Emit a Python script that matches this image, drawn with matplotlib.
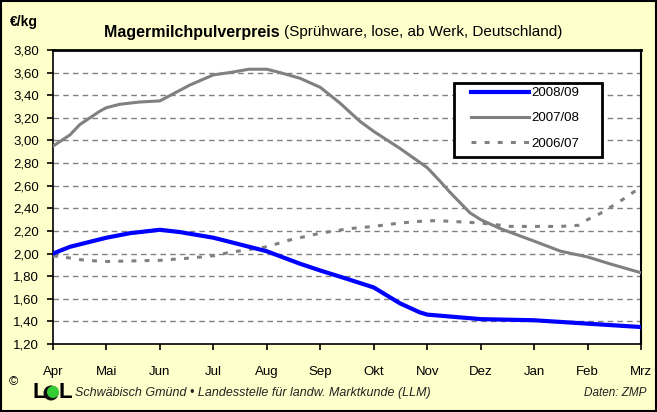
import numpy as np
import matplotlib
matplotlib.use("Agg")
import matplotlib.pyplot as plt
from matplotlib.patches import Rectangle, Ellipse

plt.rcParams['font.family'] = ['Liberation Sans', 'DejaVu Sans']

months = ['Apr', 'Mai', 'Jun', 'Jul', 'Aug', 'Sep', 'Okt', 'Nov', 'Dez', 'Jan', 'Feb', 'Mrz']
yticks = [1.2, 1.4, 1.6, 1.8, 2.0, 2.2, 2.4, 2.6, 2.8, 3.0, 3.2, 3.4, 3.6, 3.8]

# month position (0 = Apr ... 11 = Mrz) and price in EUR/kg
x_0809 = [0, 0.32, 1, 1.44, 2, 2.37, 3, 3.5, 4, 4.62, 5, 5.54, 6, 6.49, 6.86, 7,
          7.25, 8, 9, 10, 11]
y_0809 = [2.00, 2.06, 2.14, 2.18, 2.21, 2.19, 2.14, 2.08, 2.02, 1.91, 1.85, 1.77, 1.70, 1.56, 1.48, 1.46,
          1.45, 1.42, 1.41, 1.38, 1.35]

x_0708 = [0, 0.32, 0.5, 0.88, 1, 1.25, 1.62, 2, 2.28, 2.56, 3, 3.3, 3.67, 4, 4.25, 4.62,
          5, 5.37, 5.74, 6, 6.49, 7, 7.24, 7.43, 7.8, 8, 8.37, 9, 9.5, 10, 10.41, 11]
y_0708 = [2.95, 3.05, 3.14, 3.26, 3.29, 3.32, 3.34, 3.35, 3.42, 3.49, 3.58, 3.60, 3.63, 3.63, 3.60, 3.55,
          3.47, 3.33, 3.17, 3.08, 2.93, 2.76, 2.64, 2.54, 2.36, 2.30, 2.22, 2.11, 2.02, 1.97, 1.91, 1.83]

x_0607 = [0, 0.32, 0.6, 1, 2, 2.56, 3, 3.3, 3.87, 4, 4.43, 5, 5.54, 6, 6.49, 7,
          7.24, 8, 8.56, 9, 9.5, 9.83, 10, 10.22, 10.5, 10.73, 11]
y_0607 = [1.98, 1.96, 1.94, 1.93, 1.94, 1.96, 1.98, 2.01, 2.05, 2.06, 2.12, 2.18, 2.22, 2.24, 2.27, 2.29,
          2.29, 2.27, 2.24, 2.24, 2.24, 2.25, 2.30, 2.35, 2.43, 2.50, 2.59]

W, H = 657, 412
bg = '#FFFFCC'
fig = plt.figure(figsize=(W / 100, H / 100), dpi=100, facecolor=bg)
fig.patches.append(Rectangle((0.001, 0.002), 0.997, 0.996, transform=fig.transFigure,
                             fill=False, edgecolor='black', linewidth=1.5))

ax = fig.add_axes([53 / W, 1 - 344 / H, 588 / W, 294 / H])
ax.set_facecolor('white')

ax.plot(x_0809, y_0809, color='#0000FF', linewidth=3.0, label='2008/09', zorder=4)
ax.plot(x_0708, y_0708, color='#808080', linewidth=2.2, label='2007/08', zorder=3)
ax.plot(x_0607, y_0607, color='#808080', linewidth=2.2, linestyle=(0, (1.6, 2.7)),
        label='2006/07', zorder=3)

ax.set_xlim(0, 11)
ax.set_ylim(1.2, 3.8)
ax.set_xticks(range(12))
ax.set_xticklabels(months)
ax.set_yticks(yticks)
ax.set_yticklabels(['{:.2f}'.format(v).replace('.', ',') for v in yticks])
ax.tick_params(axis='both', direction='out', length=4, width=1.2, labelsize=9.5, colors='black')
ax.tick_params(axis='x', pad=12)
ax.tick_params(axis='y', pad=6)

for v in yticks[1:-1]:
    ax.axhline(v, color='#808080', linewidth=1.0, linestyle=(0, (4, 3)), zorder=1)

for s in ['left', 'bottom']:
    ax.spines[s].set_linewidth(1.2)
ax.spines['top'].set_linewidth(2)
ax.spines['right'].set_linewidth(1.5)

# legend box drawn by hand, entries placed inside
ax.add_patch(Rectangle((454 / W, 1 - 157 / H), 148 / W, 74 / H, transform=fig.transFigure,
                       facecolor='white', edgecolor='black', linewidth=2, zorder=5))
leg = ax.legend(loc='upper left', bbox_to_anchor=(471 / W, 1 - 87 / H),
                bbox_transform=fig.transFigure, frameon=False,
                fontsize=9.5, handlelength=4.4, handletextpad=0.15, borderpad=0,
                labelspacing=0.98, borderaxespad=0)
leg.set_zorder(6)

# header texts
fig.text(10 / W, 1 - 22 / H, '€/kg', fontsize=10, fontweight='bold', va='center', ha='left')
t1 = fig.text(104 / W, 1 - 32 / H, 'Magermilchpulverpreis ', fontsize=11.5, fontweight='bold',
              va='center', ha='left')
fig.canvas.draw()
bb = t1.get_window_extent()
fig.text(bb.x1 / W, 1 - 32 / H, '(Sprühware, lose, ab Werk, Deutschland)', fontsize=11,
         va='center', ha='left')

# footer with logo
fig.text(9 / W, 1 - 382 / H, '©', fontsize=9, va='center', ha='left')
fig.text(33 / W, 1 - 393 / H, 'L', fontsize=16, fontweight='bold', va='center', ha='left')
fig.patches.append(Ellipse((51 / W, 1 - 393 / H), 15 / W, 15 / H, transform=fig.transFigure,
                           facecolor='#111111', edgecolor='none'))
fig.patches.append(Ellipse((53 / W, 1 - 392 / H), 12 / W, 12 / H, transform=fig.transFigure,
                           facecolor='#33CC33', edgecolor='none'))
fig.text(58 / W, 1 - 393 / H, 'L', fontsize=16, fontweight='bold', va='center', ha='left')
fig.text(75 / W, 1 - 393 / H,
         'Schwäbisch Gmünd • Landesstelle für landw. Marktkunde (LLM)',
         fontsize=9, style='italic', va='center', ha='left', color='#222222')
fig.text(646 / W, 1 - 393 / H, 'Daten: ZMP', fontsize=8.5, style='italic',
         va='center', ha='right', color='#222222')

fig.savefig('out.png', dpi=100, facecolor=bg)
